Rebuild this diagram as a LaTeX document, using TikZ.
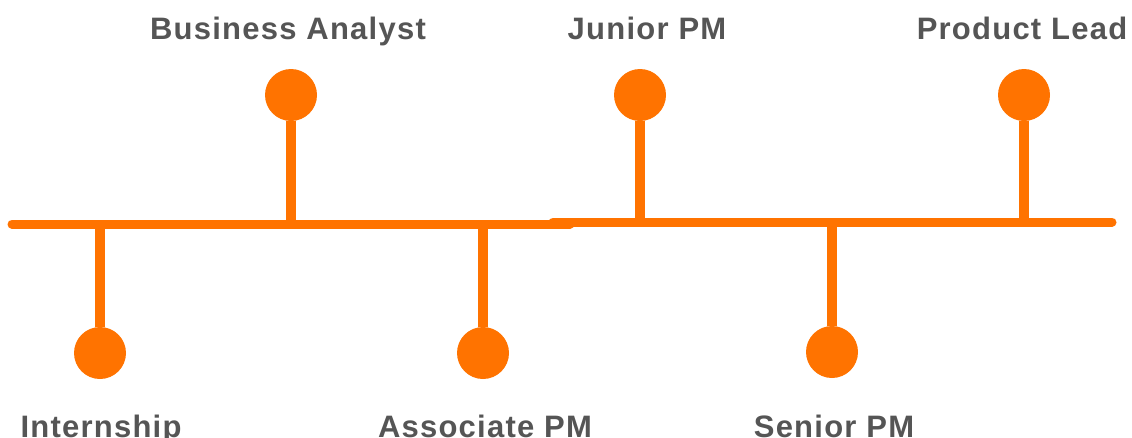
\documentclass[tikz,border=0pt]{standalone}
\usepackage{fontspec}
\setmainfont{Liberation Sans}
\newfontfamily\stagefont[LetterSpace=4]{Liberation Sans}
\usepackage{tikz}
\usetikzlibrary{positioning}
\definecolor{tlorange}{HTML}{FF7300}
\definecolor{tlgrey}{HTML}{555555}

\begin{document}
\begin{tikzpicture}[x=1pt,y=-1pt,
    dot/.style={circle,fill=tlorange,minimum size=52pt,inner sep=0pt},
    stage/.style={text=tlgrey,font=\stagefont\fontsize{31}{31}\selectfont\bfseries,inner sep=0pt,anchor=base},
    axis/.style={draw=tlorange,line width=9pt,line cap=round},
    stem/.style={draw=tlorange,line width=10pt}]
   \useasboundingbox (0,0) rectangle (1132,437);
   % main line, two pieces
   \coordinate (axisA) at (12,224);
   \coordinate (axisB) at (570,224);
   \coordinate (axisC) at (553,222);
   \coordinate (axisD) at (1112,222);
   \path[axis] (axisA) -- (axisB);
   \path[axis] (axisC) -- (axisD);
   % feet of the stems
   \coordinate (intern-foot) at (100,224);
   \coordinate (ba-foot) at (291,224);
   \coordinate (apm-foot) at (483,224);
   \coordinate (jpm-foot) at (640,222);
   \coordinate (spm-foot) at (832,222);
   \coordinate (lead-foot) at (1024,222);
   % dots
    \draw (100,353) node[dot] (intern) {};
    \draw (291,95) node[dot] (ba) {};
    \draw (483,353) node[dot] (apm) {};
    \draw (640,95) node[dot] (jpm) {};
    \draw (832,352) node[dot] (spm) {};
    \draw (1024,95) node[dot] (lead) {};
   % stems
       \path[stem] (intern) edge (intern-foot);
       \path[stem] (ba) edge (ba-foot);
       \path[stem] (apm) edge (apm-foot);
       \path[stem] (jpm) edge (jpm-foot);
       \path[stem] (spm) edge (spm-foot);
       \path[stem] (lead) edge (lead-foot);
   % labels
    \draw (101,437) node[stage] (intern-text) {Internship};
    \draw (288,39) node[stage] (ba-text) {Business Analyst};
    \draw (485,437) node[stage] (apm-text) {Associate PM};
    \draw (647,39) node[stage] (jpm-text) {Junior PM};
    \draw (834,437) node[stage] (spm-text) {Senior PM};
    \draw (1022,39) node[stage] (lead-text) {Product Lead};
\end{tikzpicture}
\end{document}
